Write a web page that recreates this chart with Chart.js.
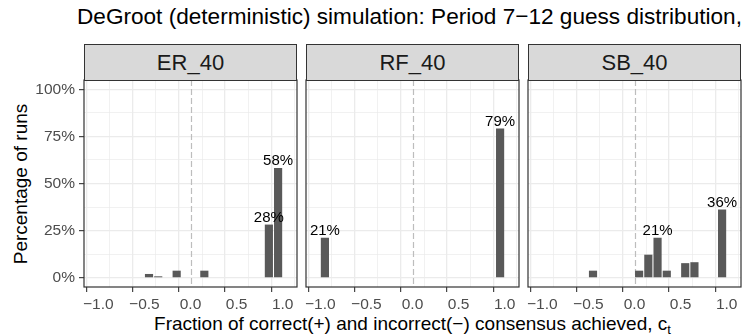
<!DOCTYPE html>
<html>
<head>
<meta charset="utf-8">
<script src="https://cdn.jsdelivr.net/npm/chart.js@4.4.1/dist/chart.umd.min.js"></script>
<style>
  html, body { margin: 0; padding: 0; background: #fff; }
  #fig {
    position: relative; width: 747px; height: 335px; overflow: hidden;
    font-family: 'Liberation Sans', Arial, Helvetica, sans-serif;
  }
  .title {
    position: absolute; left: 77px; top: 5px;
    font-size: 22.6px; line-height: 23px; color: #000; white-space: nowrap;
  }
  .strip {
    position: absolute; top: 44px; height: 37px; box-sizing: border-box;
    background: #d9d9d9; border: 1.2px solid #333;
    font-size: 22px; line-height: 35px; text-align: center; color: #1a1a1a;
  }
  .panel { position: absolute; top: 76px; }
  .xtitle {
    position: absolute; left: 84px; width: 657px; top: 314px;
    font-size: 19px; line-height: 19px; text-align: center; color: #000; white-space: nowrap;
  }
  .xtitle sub { font-size: 13px; vertical-align: -4px; line-height: 0; }
  .ytitle {
    position: absolute; left: 20px; top: 183.5px;
    transform: translate(-50%, -50%) rotate(-90deg);
    font-size: 19px; line-height: 19px; color: #000; white-space: nowrap;
  }
</style>
</head>
<body>
<div id="fig">
  <div class="title">DeGroot (deterministic) simulation: Period 7−12 guess distribution,</div>
  <div class="ytitle">Percentage of runs</div>
  <div class="xtitle">Fraction of correct(+) and incorrect(−) consensus achieved, c<sub>t</sub></div>
</div>

<script>
/* ---------- data ---------- */
const PANELS = ['ER_40', 'RF_40', 'SB_40'];

// bin centres (consensus fraction) and share of runs (%)
const ER_X   = [-0.45, -0.35, -0.15, 0.15, 0.85, 0.95];
const ER_PCT = [1.75, 0.5, 3.5, 3.5, 28, 58];
const RF_X   = [-0.95, 0.95];
const RF_PCT = [21, 79];
const SB_X   = [-0.45, 0.05, 0.15, 0.25, 0.35, 0.55, 0.65, 0.95];
const SB_PCT = [3.5, 3.5, 12, 21, 3.5, 7.5, 8, 36];

// bins that get a % label on top
const ER_LABELED = [0.85, 0.95];
const RF_LABELED = [-0.95, 0.95];
const SB_LABELED = [0.25, 0.95];

const X_MAJOR = [-1, -0.5, 0, 0.5, 1];
const X_MINOR = [-0.75, -0.25, 0.25, 0.75];
const Y_MAJOR = [0, 25, 50, 75, 100];
const Y_MINOR = [12.5, 37.5, 62.5, 87.5];

/* ---------- layout ---------- */
const PANEL_X   = [84, 306, 528];
const PANEL_W   = 213;
const CANVAS_H  = 236;
const X_AXIS_H  = 25;       // 287 -> 312
const FONT = "'Liberation Sans', Arial, Helvetica, sans-serif";

const GRID_COL = '#ebebeb';
const BAR_COL  = '#595959';
const INK      = '#333333';

const isMajor = (list, v) => list.some(m => Math.abs(m - v) < 1e-9);
const tickVal = c => (c && c.tick) ? c.tick.value : NaN;
const fmtX = v => (v < 0 ? '\u2212' : '') + Math.abs(v).toFixed(1);

// keep the plot area fixed: no extra room for overhanging end labels
function noEdgePadding(s) {
  s.paddingTop = s.paddingBottom = s.paddingLeft = s.paddingRight = 0;
}

/* ---------- plugins ---------- */
const zeroLine = {
  id: 'zeroLine',
  beforeDatasetsDraw(chart) {
    const { ctx, chartArea: a, scales: { x } } = chart;
    const px = Math.round(x.getPixelForValue(0)) + 0.5;
    ctx.save();
    ctx.strokeStyle = '#bdbdbd';
    ctx.lineWidth = 1.2;
    ctx.setLineDash([6, 3]);
    ctx.beginPath();
    ctx.moveTo(px, a.top);
    ctx.lineTo(px, a.bottom);
    ctx.stroke();
    ctx.restore();
  }
};

const barLabels = {
  id: 'barLabels',
  afterDatasetsDraw(chart, args, opts) {
    const { ctx } = chart;
    const meta = chart.getDatasetMeta(0);
    const pts = chart.data.datasets[0].data;
    ctx.save();
    ctx.font = '15px ' + FONT;
    ctx.fillStyle = '#000';
    ctx.textAlign = 'center';
    ctx.textBaseline = 'alphabetic';
    meta.data.forEach((bar, i) => {
      if (!opts.labeled.includes(pts[i].x)) return;
      ctx.fillText(Math.round(pts[i].y) + '%', bar.x, bar.y - 3);
    });
    ctx.restore();
  }
};

const panelFrame = {
  id: 'panelFrame',
  afterDraw(chart) {
    const { ctx, chartArea: a } = chart;
    ctx.save();
    ctx.strokeStyle = INK;
    ctx.lineWidth = 1.2;
    ctx.strokeRect(a.left, a.top, a.right - a.left, a.bottom - a.top);
    ctx.restore();
  }
};

/* ---------- build one facet ---------- */
function buildPanel(i, xs, pcts, labeled) {
  const fig = document.getElementById('fig');
  const yW = i === 0 ? PANEL_X[0] : 4;
  const left = PANEL_X[i] - yW;
  const w = yW + PANEL_W + 4;

  const box = document.createElement('div');
  box.className = 'panel';
  box.style.left = left + 'px';
  const canvas = document.createElement('canvas');
  canvas.width = w;
  canvas.height = CANVAS_H;
  box.appendChild(canvas);
  fig.appendChild(box);

  const strip = document.createElement('div');
  strip.className = 'strip';
  strip.style.left = PANEL_X[i] + 'px';
  strip.style.width = PANEL_W + 'px';
  strip.textContent = PANELS[i];
  fig.appendChild(strip);

  new Chart(canvas.getContext('2d'), {
    type: 'bar',
    data: {
      datasets: [{
        data: xs.map((x, k) => ({ x: x, y: pcts[k] })),
        backgroundColor: BAR_COL,
        borderWidth: 0,
        barThickness: 7.5
      }]
    },
    options: {
      responsive: false,
      animation: false,
      layout: { padding: { top: 4, right: 4, bottom: 0, left: 0 } },
      plugins: {
        legend: { display: false },
        tooltip: { enabled: false },
        barLabels: { labeled: labeled }
      },
      scales: {
        x: {
          type: 'linear',
          min: -1.155,
          max: 1.155,
          offset: false,
          border: { display: false },
          afterBuildTicks: s => { s.ticks = X_MAJOR.concat(X_MINOR).sort((a, b) => a - b).map(v => ({ value: v })); },
          afterFit: s => { s.height = X_AXIS_H; noEdgePadding(s); },
          grid: {
            color: GRID_COL,
            lineWidth: c => isMajor(X_MAJOR, tickVal(c)) ? 1.3 : 0.7,
            tickColor: c => isMajor(X_MAJOR, tickVal(c)) ? INK : 'rgba(0,0,0,0)',
            tickWidth: 1.1,
            tickLength: 5
          },
          ticks: {
            autoSkip: false,
            maxRotation: 0,
            padding: 3,
            color: '#4d4d4d',
            font: { size: 15.5, family: FONT },
            callback: v => isMajor(X_MAJOR, v) ? fmtX(v) : ''
          }
        },
        y: {
          min: -5,
          max: 105,
          border: { display: false },
          afterBuildTicks: s => { s.ticks = Y_MAJOR.concat(Y_MINOR).sort((a, b) => a - b).map(v => ({ value: v })); },
          afterFit: s => { s.width = yW; noEdgePadding(s); },
          grid: {
            color: GRID_COL,
            lineWidth: c => isMajor(Y_MAJOR, tickVal(c)) ? 1.3 : 0.7,
            tickColor: c => isMajor(Y_MAJOR, tickVal(c)) ? INK : 'rgba(0,0,0,0)',
            tickWidth: 1.1,
            tickLength: 5,
            drawTicks: i === 0
          },
          ticks: {
            display: i === 0,
            autoSkip: false,
            padding: 4,
            color: '#4d4d4d',
            font: { size: 15.5, family: FONT },
            callback: v => isMajor(Y_MAJOR, v) ? v + '%' : ''
          }
        }
      }
    },
    plugins: [zeroLine, barLabels, panelFrame]
  });
}

window.addEventListener('load', function () {
  buildPanel(0, ER_X, ER_PCT, ER_LABELED);
  buildPanel(1, RF_X, RF_PCT, RF_LABELED);
  buildPanel(2, SB_X, SB_PCT, SB_LABELED);
});
</script>
</body>
</html>
